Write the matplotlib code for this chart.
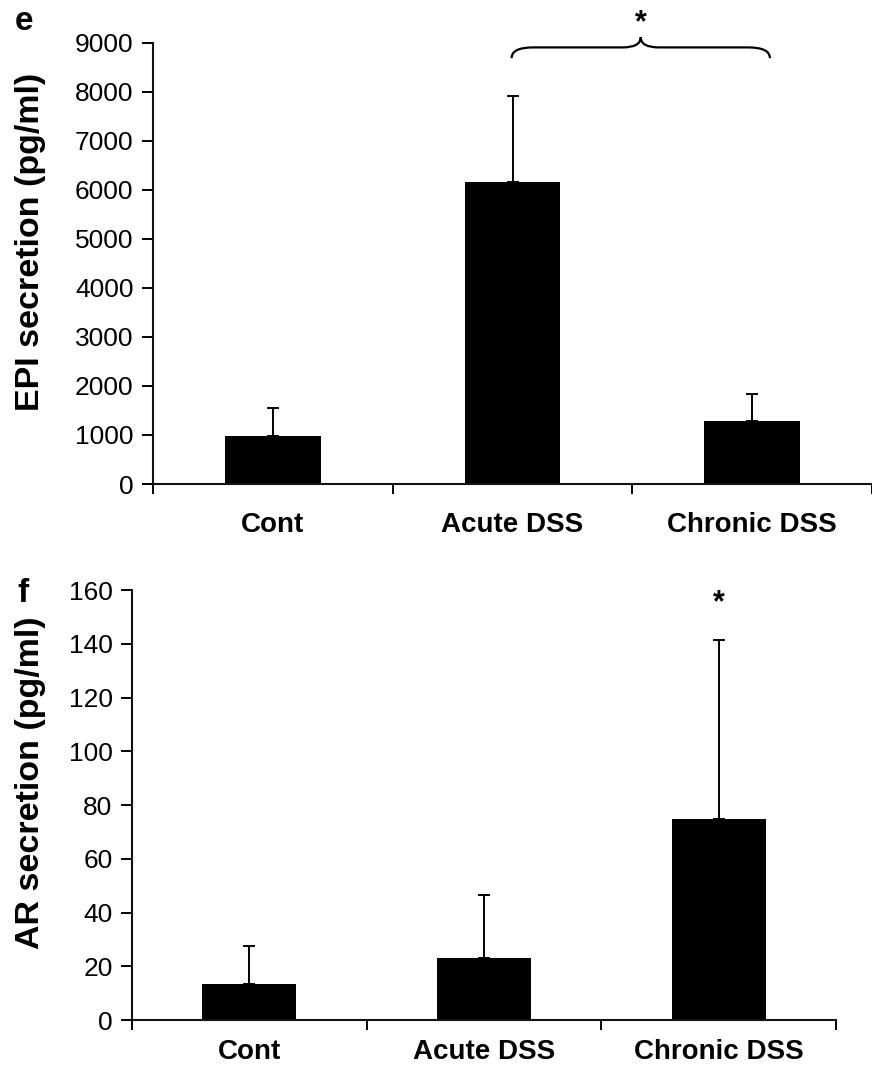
import matplotlib
matplotlib.use("Agg")
import matplotlib.pyplot as plt
from matplotlib.path import Path
from matplotlib.patches import PathPatch
import numpy as np

plt.rcParams["font.family"] = ["Liberation Sans", "DejaVu Sans"]

# values
groups = ["Cont", "Acute DSS", "Chronic DSS"]
epi_mean = [980, 6150, 1280]
epi_err = [570, 1750, 560]
ar_mean = [13.4, 23.2, 74.8]
ar_err = [14.2, 23.5, 66.8]
epi_ticks = [0, 1000, 2000, 3000, 4000, 5000, 6000, 7000, 8000, 9000]
ar_ticks = [0, 20, 40, 60, 80, 100, 120, 140, 160]
epi_brace_level = 8900   # brace between Acute and Chronic
ar_star_level = 155      # star over Chronic

fig = plt.figure(figsize=(8.72, 10.68), dpi=100)
ax1 = fig.add_axes([0.1755, 0.5468, 0.8245, 0.4134])
ax2 = fig.add_axes([0.1514, 0.0449, 0.8073, 0.4026])

x = np.arange(len(groups))


def draw_panel(ax, mean, err, ticks, xlim, label_pad):
    ax.bar(x, mean, width=0.4, color="black", zorder=2)
    ax.errorbar(x, mean, yerr=[np.zeros(len(err)), err], fmt="none",
                ecolor="black", elinewidth=1.4, capsize=4, capthick=1.4, zorder=3)
    ax.set_xlim(*xlim)
    ax.set_ylim(0, ticks[-1])
    ax.set_yticks(ticks)
    ax.tick_params(axis="y", labelsize=19, length=8, width=1.4, pad=6)
    # ticks between groups, labels under the bars
    ax.set_xticks(np.arange(len(groups) + 1) - 0.5)
    ax.set_xticklabels([])
    ax.set_xticks(x, groups, minor=True)
    ax.tick_params(axis="x", which="major", length=7, width=1.4, direction="out")
    ax.tick_params(axis="x", which="minor", length=0, labelsize=20, pad=label_pad)
    for t in ax.get_xticklabels(minor=True):
        t.set_fontweight("bold")
    for s in ["top", "right"]:
        ax.spines[s].set_visible(False)
    for s in ["left", "bottom"]:
        ax.spines[s].set_linewidth(1.5)
        ax.spines[s].set_color("#111111")


draw_panel(ax1, epi_mean, epi_err, epi_ticks, (-0.5, 2.471), 20)
draw_panel(ax2, ar_mean, ar_err, ar_ticks, (-0.5, 2.5), 14)

fig.text(31 / 872, 1 - 242 / 1068, "EPI secretion (pg/ml)", rotation=90,
         ha="center", va="center", fontsize=24.5, fontweight="bold")
fig.text(31 / 872, 1 - 783 / 1068, "AR secretion (pg/ml)", rotation=90,
         ha="center", va="center", fontsize=24.5, fontweight="bold")
fig.text(15 / 872, 1 - 22 / 1068, "e", ha="left", va="center", fontsize=24, fontweight="bold")
fig.text(17 / 872, 1 - 594 / 1068, "f", ha="left", va="center", fontsize=24, fontweight="bold")

# curly brace from Acute to Chronic
x0, x1 = x[1] - 0.004, x[2] + 0.074
xm = (x0 + x1) / 2
ye, yh, yt = epi_brace_level - 220, epi_brace_level, epi_brace_level + 210
r, rm = 0.09, 0.075
verts = [(x0, ye), (x0, yh), (x0 + r, yh), (xm - rm, yh), (xm, yh), (xm, yt),
         (xm, yh), (xm + rm, yh), (x1 - r, yh), (x1, yh), (x1, ye)]
codes = [Path.MOVETO, Path.CURVE3, Path.CURVE3, Path.LINETO, Path.CURVE3, Path.CURVE3,
         Path.CURVE3, Path.CURVE3, Path.LINETO, Path.CURVE3, Path.CURVE3]
ax1.add_patch(PathPatch(Path(verts, codes), fill=False, lw=1.6, color="black", clip_on=False))
ax1.text(xm, epi_brace_level + 500, "*", ha="center", va="center", fontsize=22, fontweight="bold")

ax2.text(x[2], ar_star_level, "*", ha="center", va="center", fontsize=22, fontweight="bold")

fig.savefig("out.png", dpi=100)
